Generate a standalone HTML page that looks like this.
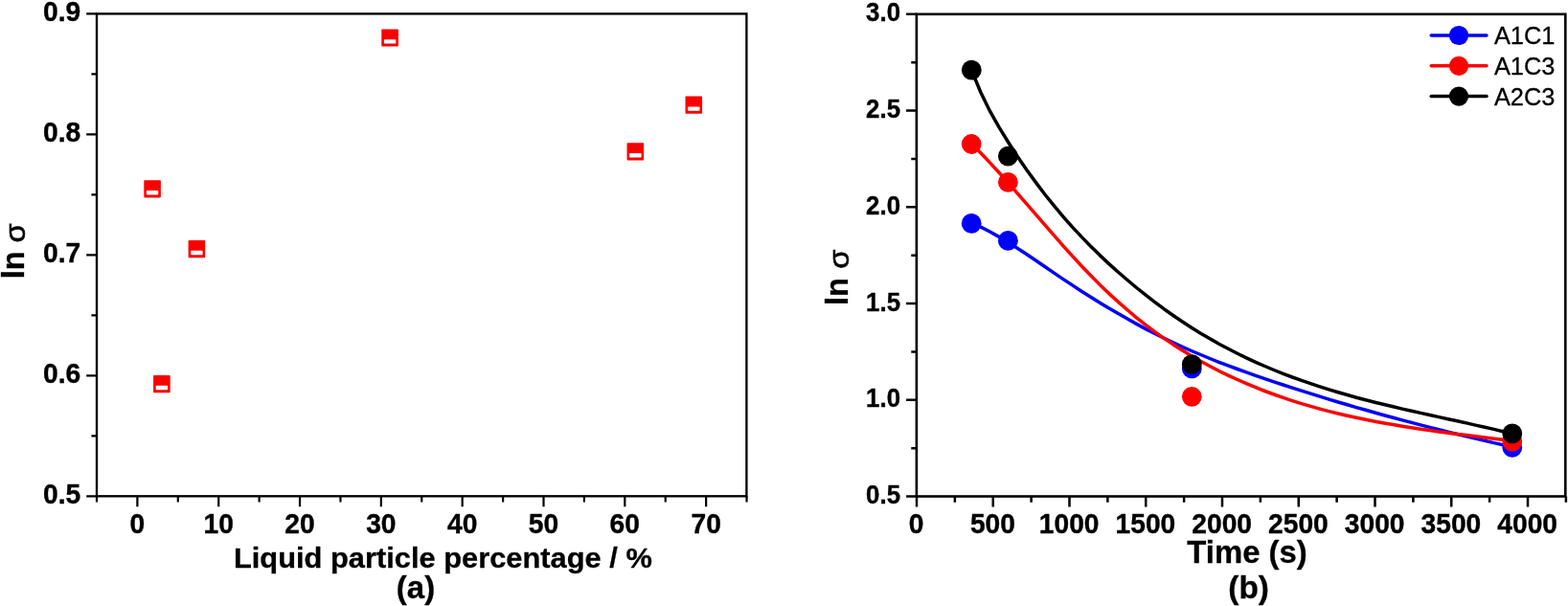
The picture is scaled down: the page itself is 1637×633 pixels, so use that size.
<!DOCTYPE html>
<html lang="en"><head><meta charset="utf-8"><title>ln sigma plots</title>
<style>
html,body{margin:0;padding:0;background:#fff;}
body{width:1637px;height:633px;overflow:hidden;}
svg{display:block;}
text{font-family:"Liberation Sans",sans-serif;fill:#000;}
.b{font-weight:bold;}
</style></head><body>
<svg width="1637" height="633" viewBox="0 0 1637 633">
<rect width="1637" height="633" fill="#fff"/>
<rect x="101.0" y="14.4" width="678.40" height="503.90" fill="none" stroke="#000" stroke-width="2.35"/>
<text class="b" transform="translate(143.40 557.30) scale(0.935 1)" font-size="30.2" text-anchor="middle" stroke="#000" stroke-width="0.4" stroke-linejoin="round">0</text>
<text class="b" transform="translate(228.22 557.30) scale(0.935 1)" font-size="30.2" text-anchor="middle" stroke="#000" stroke-width="0.4" stroke-linejoin="round">10</text>
<text class="b" transform="translate(313.04 557.30) scale(0.935 1)" font-size="30.2" text-anchor="middle" stroke="#000" stroke-width="0.4" stroke-linejoin="round">20</text>
<text class="b" transform="translate(397.86 557.30) scale(0.935 1)" font-size="30.2" text-anchor="middle" stroke="#000" stroke-width="0.4" stroke-linejoin="round">30</text>
<text class="b" transform="translate(482.68 557.30) scale(0.935 1)" font-size="30.2" text-anchor="middle" stroke="#000" stroke-width="0.4" stroke-linejoin="round">40</text>
<text class="b" transform="translate(567.50 557.30) scale(0.935 1)" font-size="30.2" text-anchor="middle" stroke="#000" stroke-width="0.4" stroke-linejoin="round">50</text>
<text class="b" transform="translate(652.32 557.30) scale(0.935 1)" font-size="30.2" text-anchor="middle" stroke="#000" stroke-width="0.4" stroke-linejoin="round">60</text>
<text class="b" transform="translate(737.14 557.30) scale(0.935 1)" font-size="30.2" text-anchor="middle" stroke="#000" stroke-width="0.4" stroke-linejoin="round">70</text>
<text class="b" transform="translate(84.20 525.60) scale(0.935 1)" font-size="30.2" text-anchor="end" stroke="#000" stroke-width="0.4" stroke-linejoin="round">0.5</text>
<text class="b" transform="translate(84.20 399.62) scale(0.935 1)" font-size="30.2" text-anchor="end" stroke="#000" stroke-width="0.4" stroke-linejoin="round">0.6</text>
<text class="b" transform="translate(84.20 273.65) scale(0.935 1)" font-size="30.2" text-anchor="end" stroke="#000" stroke-width="0.4" stroke-linejoin="round">0.7</text>
<text class="b" transform="translate(84.20 147.67) scale(0.935 1)" font-size="30.2" text-anchor="end" stroke="#000" stroke-width="0.4" stroke-linejoin="round">0.8</text>
<text class="b" transform="translate(84.20 21.70) scale(0.935 1)" font-size="30.2" text-anchor="end" stroke="#000" stroke-width="0.4" stroke-linejoin="round">0.9</text>
<path d="M143.40 518.3v11 M228.22 518.3v11 M313.04 518.3v11 M397.86 518.3v11 M482.68 518.3v11 M567.50 518.3v11 M652.32 518.3v11 M737.14 518.3v11 M100.99 518.3v6.3 M185.81 518.3v6.3 M270.63 518.3v6.3 M355.45 518.3v6.3 M440.27 518.3v6.3 M525.09 518.3v6.3 M609.91 518.3v6.3 M694.73 518.3v6.3 M779.55 518.3v6.3 M101.0 518.30h-10.8 M101.0 392.32h-10.8 M101.0 266.35h-10.8 M101.0 140.37h-10.8 M101.0 14.40h-10.8 M101.0 455.31h-5.6 M101.0 329.34h-5.6 M101.0 203.36h-5.6 M101.0 77.39h-5.6" stroke="#000" stroke-width="2.2" fill="none"/>
<g transform="translate(159.10 197.30)"><rect x="-8.8" y="-9.1" width="17.6" height="18.2" rx="0.8" fill="#fb0000"/><rect x="-6.2" y="1.7" width="12.4" height="4.4" rx="0.8" fill="#fff"/></g>
<g transform="translate(168.90 401.10)"><rect x="-8.8" y="-9.1" width="17.6" height="18.2" rx="0.8" fill="#fb0000"/><rect x="-6.2" y="1.7" width="12.4" height="4.4" rx="0.8" fill="#fff"/></g>
<g transform="translate(205.40 260.10)"><rect x="-8.8" y="-9.1" width="17.6" height="18.2" rx="0.8" fill="#fb0000"/><rect x="-6.2" y="1.7" width="12.4" height="4.4" rx="0.8" fill="#fff"/></g>
<g transform="translate(407.10 39.50)"><rect x="-8.8" y="-9.1" width="17.6" height="18.2" rx="0.8" fill="#fb0000"/><rect x="-6.2" y="1.7" width="12.4" height="4.4" rx="0.8" fill="#fff"/></g>
<g transform="translate(663.35 158.40)"><rect x="-8.8" y="-9.1" width="17.6" height="18.2" rx="0.8" fill="#fb0000"/><rect x="-6.2" y="1.7" width="12.4" height="4.4" rx="0.8" fill="#fff"/></g>
<g transform="translate(724.30 109.70)"><rect x="-8.8" y="-9.1" width="17.6" height="18.2" rx="0.8" fill="#fb0000"/><rect x="-6.2" y="1.7" width="12.4" height="4.4" rx="0.8" fill="#fff"/></g>
<text class="b" transform="translate(462.40 592.90) scale(1.035 1)" font-size="29.8" text-anchor="middle" stroke="#000" stroke-width="0.3" stroke-linejoin="round">Liquid particle percentage / %</text>
<text class="b" transform="translate(434.00 624.50) scale(1.0 1)" font-size="33" text-anchor="middle" stroke="#000" stroke-width="0.3" stroke-linejoin="round">(a)</text>
<text class="b" font-size="32.5" stroke="#000" stroke-width="0.3" transform="translate(25.3 291.2) rotate(-90)">ln</text>
<text font-size="32.5" stroke="#000" stroke-width="0.7" transform="translate(26.2 253.39999999999998) rotate(-90) scale(1 0.92)">σ</text>
<rect x="956.9" y="14.8" width="677.40" height="503.70" fill="none" stroke="#000" stroke-width="2.6"/>
<text class="b" transform="translate(956.70 557.20) scale(0.965 1)" font-size="29.2" text-anchor="middle" stroke="#000" stroke-width="0.4" stroke-linejoin="round">0</text>
<text class="b" transform="translate(1036.45 557.20) scale(0.965 1)" font-size="29.2" text-anchor="middle" stroke="#000" stroke-width="0.4" stroke-linejoin="round">500</text>
<text class="b" transform="translate(1116.20 557.20) scale(0.965 1)" font-size="29.2" text-anchor="middle" stroke="#000" stroke-width="0.4" stroke-linejoin="round">1000</text>
<text class="b" transform="translate(1195.95 557.20) scale(0.965 1)" font-size="29.2" text-anchor="middle" stroke="#000" stroke-width="0.4" stroke-linejoin="round">1500</text>
<text class="b" transform="translate(1275.70 557.20) scale(0.965 1)" font-size="29.2" text-anchor="middle" stroke="#000" stroke-width="0.4" stroke-linejoin="round">2000</text>
<text class="b" transform="translate(1355.45 557.20) scale(0.965 1)" font-size="29.2" text-anchor="middle" stroke="#000" stroke-width="0.4" stroke-linejoin="round">2500</text>
<text class="b" transform="translate(1435.20 557.20) scale(0.965 1)" font-size="29.2" text-anchor="middle" stroke="#000" stroke-width="0.4" stroke-linejoin="round">3000</text>
<text class="b" transform="translate(1514.95 557.20) scale(0.965 1)" font-size="29.2" text-anchor="middle" stroke="#000" stroke-width="0.4" stroke-linejoin="round">3500</text>
<text class="b" transform="translate(1594.70 557.20) scale(0.965 1)" font-size="29.2" text-anchor="middle" stroke="#000" stroke-width="0.4" stroke-linejoin="round">4000</text>
<text class="b" transform="translate(940.00 526.10) scale(0.93 1)" font-size="27.8" text-anchor="end" stroke="#000" stroke-width="0.4" stroke-linejoin="round">0.5</text>
<text class="b" transform="translate(940.00 425.36) scale(0.93 1)" font-size="27.8" text-anchor="end" stroke="#000" stroke-width="0.4" stroke-linejoin="round">1.0</text>
<text class="b" transform="translate(940.00 324.62) scale(0.93 1)" font-size="27.8" text-anchor="end" stroke="#000" stroke-width="0.4" stroke-linejoin="round">1.5</text>
<text class="b" transform="translate(940.00 223.88) scale(0.93 1)" font-size="27.8" text-anchor="end" stroke="#000" stroke-width="0.4" stroke-linejoin="round">2.0</text>
<text class="b" transform="translate(940.00 123.14) scale(0.93 1)" font-size="27.8" text-anchor="end" stroke="#000" stroke-width="0.4" stroke-linejoin="round">2.5</text>
<text class="b" transform="translate(940.00 22.40) scale(0.93 1)" font-size="27.8" text-anchor="end" stroke="#000" stroke-width="0.4" stroke-linejoin="round">3.0</text>
<path d="M957.00 518.5v11 M1036.75 518.5v11 M1116.50 518.5v11 M1196.25 518.5v11 M1276.00 518.5v11 M1355.75 518.5v11 M1435.50 518.5v11 M1515.25 518.5v11 M1595.00 518.5v11 M996.88 518.5v6.3 M1076.62 518.5v6.3 M1156.38 518.5v6.3 M1236.12 518.5v6.3 M1315.88 518.5v6.3 M1395.62 518.5v6.3 M1475.38 518.5v6.3 M1555.12 518.5v6.3 M1634.88 518.5v6.3 M956.9 518.50h-10.8 M956.9 417.76h-10.8 M956.9 317.02h-10.8 M956.9 216.28h-10.8 M956.9 115.54h-10.8 M956.9 14.80h-10.8 M956.9 468.13h-5.6 M956.9 367.39h-5.6 M956.9 266.65h-5.6 M956.9 165.91h-5.6 M956.9 65.17h-5.6" stroke="#000" stroke-width="2.5" fill="none"/>
<path d="M1014.3 232.7 L1023.9 237.1 L1033.4 242.0 L1043.0 247.4 L1052.6 253.1 L1062.1 259.2 L1071.7 265.5 L1081.3 272.0 L1090.8 278.5 L1100.4 285.1 L1110.0 291.6 L1119.5 297.9 L1129.1 304.2 L1138.7 310.2 L1148.2 316.2 L1157.8 322.0 L1167.4 327.6 L1177.0 333.1 L1186.5 338.4 L1196.1 343.6 L1205.7 348.5 L1215.2 353.3 L1224.8 357.9 L1234.4 362.3 L1243.9 366.5 L1253.5 370.5 L1263.1 374.5 L1272.6 378.3 L1282.2 381.9 L1291.8 385.5 L1301.3 388.9 L1310.9 392.3 L1320.5 395.6 L1330.0 398.8 L1339.6 402.0 L1349.2 405.1 L1358.7 408.2 L1368.3 411.2 L1377.9 414.2 L1387.4 417.1 L1397.0 420.0 L1406.6 422.8 L1416.1 425.6 L1425.7 428.3 L1435.3 431.0 L1444.9 433.7 L1454.4 436.3 L1464.0 438.9 L1473.6 441.4 L1483.1 443.9 L1492.7 446.4 L1502.3 448.8 L1511.8 451.2 L1521.4 453.5 L1531.0 455.8 L1540.5 458.1 L1550.1 460.4 L1559.7 462.6 L1569.2 464.8 L1578.8 467.0" fill="none" stroke="#00f" stroke-width="3.5" stroke-linejoin="round" stroke-linecap="round"/>
<circle cx="1014.2" cy="233.4" r="10.4" fill="#00f"/>
<circle cx="1052.4" cy="251.3" r="10.4" fill="#00f"/>
<circle cx="1244.3" cy="384.9" r="10.4" fill="#00f"/>
<circle cx="1578.8" cy="467.4" r="10.4" fill="#00f"/>
<path d="M1014.3 150.2 L1023.9 159.8 L1033.4 169.9 L1043.0 180.2 L1052.6 190.9 L1062.1 201.8 L1071.7 212.8 L1081.3 223.9 L1090.8 234.9 L1100.4 245.9 L1110.0 256.8 L1119.5 267.4 L1129.1 277.7 L1138.7 287.7 L1148.2 297.4 L1157.8 306.6 L1167.4 315.4 L1177.0 323.8 L1186.5 331.8 L1196.1 339.4 L1205.7 346.6 L1215.2 353.4 L1224.8 359.9 L1234.4 366.0 L1243.9 371.8 L1253.5 377.3 L1263.1 382.5 L1272.6 387.5 L1282.2 392.1 L1291.8 396.5 L1301.3 400.7 L1310.9 404.7 L1320.5 408.5 L1330.0 412.0 L1339.6 415.4 L1349.2 418.6 L1358.7 421.6 L1368.3 424.4 L1377.9 427.1 L1387.4 429.6 L1397.0 432.0 L1406.6 434.2 L1416.1 436.3 L1425.7 438.3 L1435.3 440.2 L1444.9 442.0 L1454.4 443.6 L1464.0 445.2 L1473.6 446.7 L1483.1 448.2 L1492.7 449.6 L1502.3 450.9 L1511.8 452.2 L1521.4 453.4 L1531.0 454.6 L1540.5 455.8 L1550.1 457.0 L1559.7 458.2 L1569.2 459.3 L1578.8 460.5" fill="none" stroke="#f00" stroke-width="3.5" stroke-linejoin="round" stroke-linecap="round"/>
<circle cx="1014.2" cy="150.5" r="10.4" fill="#f00"/>
<circle cx="1052.4" cy="190.4" r="10.4" fill="#f00"/>
<circle cx="1244.3" cy="414.3" r="10.4" fill="#f00"/>
<circle cx="1578.8" cy="461.1" r="10.4" fill="#f00"/>
<path d="M1014.3 73.5 L1023.9 96.5 L1033.4 115.9 L1043.0 132.8 L1052.6 148.5 L1062.1 163.2 L1071.7 177.2 L1081.3 190.4 L1090.8 203.0 L1100.4 214.9 L1110.0 226.3 L1119.5 237.1 L1129.1 247.4 L1138.7 257.2 L1148.2 266.6 L1157.8 275.6 L1167.4 284.2 L1177.0 292.5 L1186.5 300.5 L1196.1 308.2 L1205.7 315.6 L1215.2 322.7 L1224.8 329.5 L1234.4 336.0 L1243.9 342.2 L1253.5 348.2 L1263.1 353.8 L1272.6 359.2 L1282.2 364.3 L1291.8 369.2 L1301.3 373.9 L1310.9 378.3 L1320.5 382.5 L1330.0 386.5 L1339.6 390.3 L1349.2 394.0 L1358.7 397.4 L1368.3 400.7 L1377.9 403.9 L1387.4 406.9 L1397.0 409.8 L1406.6 412.5 L1416.1 415.2 L1425.7 417.7 L1435.3 420.2 L1444.9 422.5 L1454.4 424.8 L1464.0 427.1 L1473.6 429.3 L1483.1 431.4 L1492.7 433.5 L1502.3 435.6 L1511.8 437.7 L1521.4 439.8 L1531.0 441.9 L1540.5 444.1 L1550.1 446.2 L1559.7 448.4 L1569.2 450.7 L1578.8 453.0" fill="none" stroke="#000" stroke-width="3.5" stroke-linejoin="round" stroke-linecap="round"/>
<circle cx="1014.3" cy="73.2" r="10.4" fill="#000"/>
<circle cx="1052.4" cy="163.2" r="10.4" fill="#000"/>
<circle cx="1244.3" cy="380.6" r="10.4" fill="#000"/>
<circle cx="1578.8" cy="452.9" r="10.4" fill="#000"/>
<path d="M1494.2 37.0H1552" stroke="#00f" stroke-width="3.5" stroke-linecap="round" fill="none"/><circle cx="1523" cy="37.0" r="10.1" fill="#00f"/>
<text transform="translate(1559.9 46.1) scale(0.972 1)" font-size="26.1" stroke="#000" stroke-width="0.3">A1C1</text>
<path d="M1494.2 68.8H1552" stroke="#f00" stroke-width="3.5" stroke-linecap="round" fill="none"/><circle cx="1523" cy="68.8" r="10.1" fill="#f00"/>
<text transform="translate(1559.9 77.9) scale(0.972 1)" font-size="26.1" stroke="#000" stroke-width="0.3">A1C3</text>
<path d="M1494.2 100.6H1552" stroke="#000" stroke-width="3.5" stroke-linecap="round" fill="none"/><circle cx="1523" cy="100.6" r="10.1" fill="#000"/>
<text transform="translate(1559.9 109.7) scale(0.972 1)" font-size="26.1" stroke="#000" stroke-width="0.3">A2C3</text>
<text class="b" transform="translate(1302.00 587.50) scale(1.015 1)" font-size="32.4" text-anchor="middle" stroke="#000" stroke-width="0.3" stroke-linejoin="round">Time (s)</text>
<text class="b" transform="translate(1303.60 625.00) scale(1.0 1)" font-size="33.4" text-anchor="middle" stroke="#000" stroke-width="0.3" stroke-linejoin="round">(b)</text>
<text class="b" font-size="32.5" stroke="#000" stroke-width="0.3" transform="translate(884.7 319) rotate(-90)">ln</text>
<text font-size="32.5" stroke="#000" stroke-width="0.7" transform="translate(885.6 280.7) rotate(-90) scale(1 0.92)">σ</text>
</svg></body></html>
